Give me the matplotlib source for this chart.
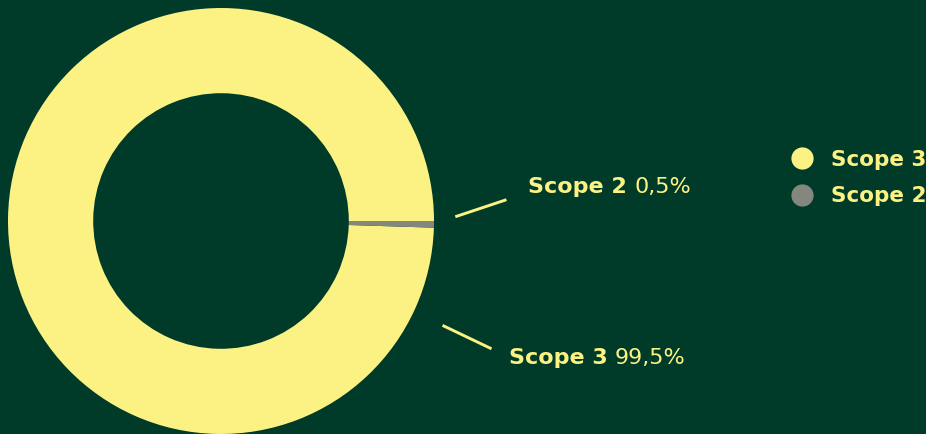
import matplotlib.pyplot as plt
from matplotlib.lines import Line2D

# data
labels = ["Scope 3", "Scope 2"]
shares = [99.5, 0.5]
share_text = ["99,5%", "0,5%"]

bg = "#003b2a"
colours = ["#fbf283", "#85877f"]
text_col = "#fbf283"

W, H = 926, 434
R_PX = 213  # donut radius in pixels
CX, CY = 221, 221  # centre, pixels from top left

fig = plt.figure(figsize=(W / 100, H / 100), dpi=100, facecolor=bg)
ax = fig.add_axes([0, 0, 1, 1])
ax.set_facecolor(bg)

wedges, _ = ax.pie(shares, colors=colours, startangle=0, counterclock=True,
                   radius=1, wedgeprops=dict(width=0.4, linewidth=0))

# pie() resets the limits, so set them afterwards
ax.set_xlim(-CX / R_PX, (W - CX) / R_PX)
ax.set_ylim(-(H - CY) / R_PX, CY / R_PX)
ax.set_aspect("equal")
ax.axis("off")

# callouts: (line start, line end, text pos)
callouts = {
    "Scope 2": ((1.10, 0.02), (1.34, 0.10), (1.44, 0.16)),
    "Scope 3": ((1.04, -0.49), (1.27, -0.60), (1.35, -0.645)),
}
fig.canvas.draw()
rend = fig.canvas.get_renderer()
for lab, txt in zip(labels, share_text):
    p0, p1, pt = callouts[lab]
    ax.plot([p0[0], p1[0]], [p0[1], p1[1]], color=text_col, lw=2.1,
            solid_capstyle="butt")
    t = ax.text(pt[0], pt[1], lab + " ", color=text_col, fontsize=16,
                fontweight="bold", va="center", ha="left")
    bb = t.get_window_extent(rend)
    x_end = ax.transData.inverted().transform((bb.x1, bb.y0))[0]
    ax.text(x_end, pt[1], txt, color=text_col, fontsize=16,
            fontweight="normal", va="center", ha="left")

handles = [Line2D([], [], marker="o", ls="", markersize=16,
                  markerfacecolor=c, markeredgewidth=0) for c in colours]
leg = ax.legend(handles, labels, loc="center left", frameon=False,
                bbox_to_anchor=(790 / W, 1 - 178 / H),
                bbox_transform=fig.transFigure,
                handletextpad=0.8, labelspacing=0.75, borderpad=0,
                borderaxespad=0, handlelength=1.1,
                prop=dict(size=15.5, weight="bold"))
for t in leg.get_texts():
    t.set_color(text_col)

fig.savefig("out.png", dpi=100, facecolor=bg)
